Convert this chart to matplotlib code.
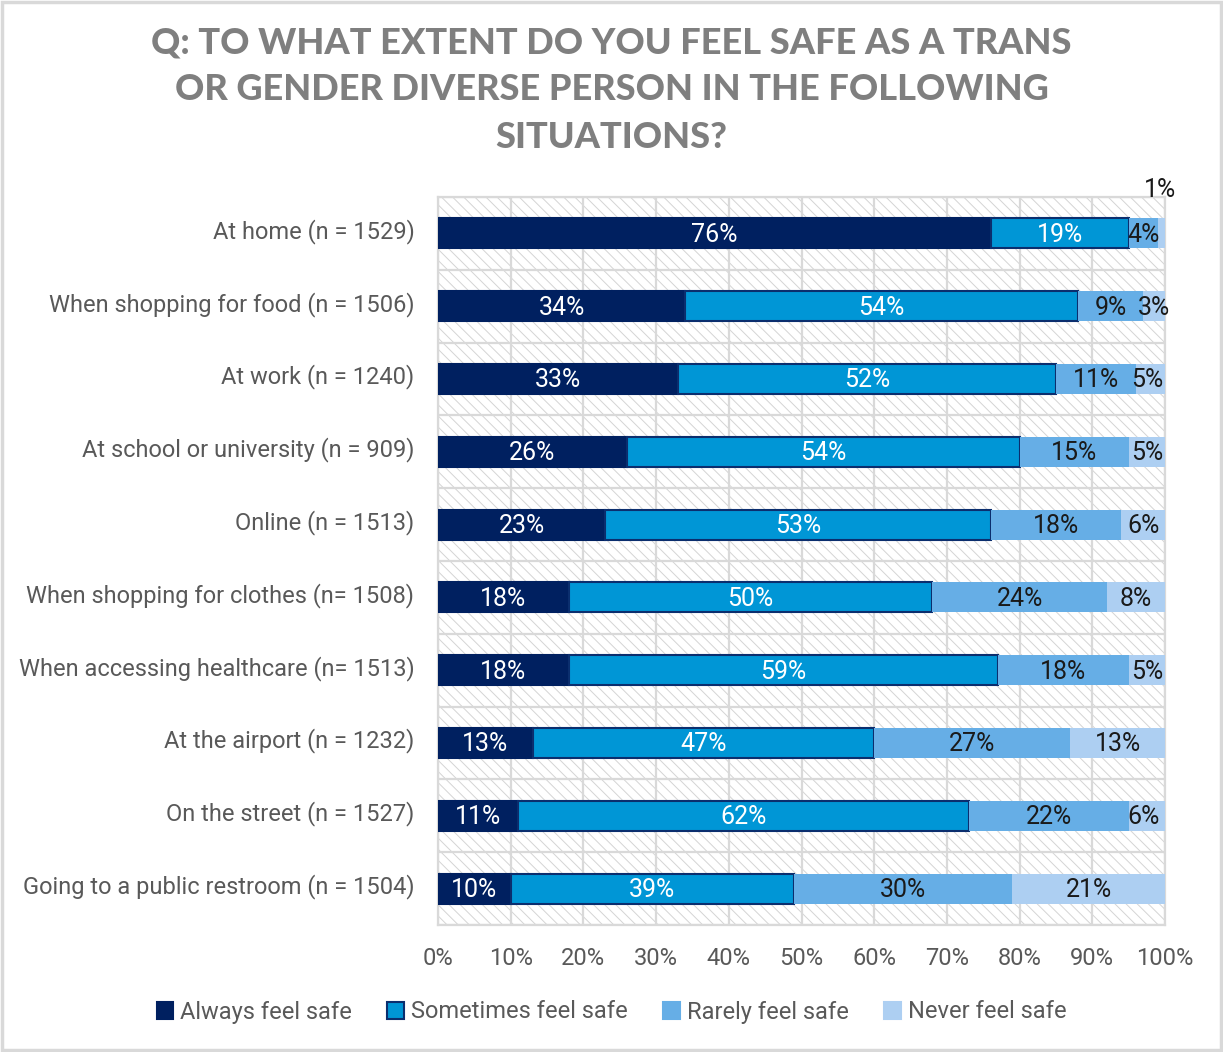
import matplotlib
matplotlib.use("Agg")
import matplotlib.pyplot as plt
from matplotlib.patches import Rectangle
import matplotlib.transforms as mtransforms
import numpy as np

categories = [
    "At home (n = 1529)",
    "When shopping for food (n = 1506)",
    "At work (n = 1240)",
    "At school or university (n = 909)",
    "Online (n = 1513)",
    "When shopping for clothes (n= 1508)",
    "When accessing healthcare (n= 1513)",
    "At the airport (n = 1232)",
    "On the street (n = 1527)",
    "Going to a public restroom (n = 1504)",
]
always = [76, 34, 33, 26, 23, 18, 18, 13, 11, 10]
sometimes = [19, 54, 52, 54, 53, 50, 59, 47, 62, 39]
rarely = [4, 9, 11, 15, 18, 24, 18, 27, 22, 30]
never = [1, 3, 5, 5, 6, 8, 5, 13, 6, 21]
series_names = ["Always feel safe", "Sometimes feel safe", "Rarely feel safe", "Never feel safe"]
xticks = [0, 10, 20, 30, 40, 50, 60, 70, 80, 90, 100]
title = "Q: TO WHAT EXTENT DO YOU FEEL SAFE AS A TRANS\nOR GENDER DIVERSE PERSON IN THE FOLLOWING\nSITUATIONS?"

colors = ["#002060", "#0096D6", "#66AEE6", "#ADCFF2"]
edges = ["#002060", "#0B2E6E", "none", "none"]
label_colors = ["white", "white", "#1A1A1A", "#1A1A1A"]

plt.rcParams["font.family"] = ["Roboto", "DejaVu Sans"]
plt.rcParams["hatch.linewidth"] = 0.7

fig = plt.figure(figsize=(12.23, 10.52), dpi=100)
ax = fig.add_axes([438/1223, 1-925/1052, (1165-438)/1223, (925-197)/1052])

# figure border
fig.patches.append(Rectangle((0.002, 0.002), 0.996, 0.996, transform=fig.transFigure,
                             fill=False, edgecolor="#D9D9D9", linewidth=2.5))

# hatched plot area
ax.add_patch(Rectangle((0, 0), 1, 1, transform=ax.transAxes, facecolor="white",
                       edgecolor="#D4D4D4", hatch="\\\\\\", linewidth=0, zorder=0))

y = np.arange(len(categories))
data = [always, sometimes, rarely, never]
left = np.zeros(len(categories))
bar_h = 0.41
for i, vals in enumerate(data):
    vals = np.array(vals, dtype=float)
    ax.barh(y, vals, left=left, height=bar_h, color=colors[i],
            edgecolor=edges[i], linewidth=1.5 if edges[i] != "none" else 0, zorder=3)
    for j, v in enumerate(vals):
        if categories[j].startswith("At home") and i == 3:
            ax.text(99.3, -0.6, f"{int(v)}%", ha="center", va="center",
                    fontsize=18, color="#1A1A1A", clip_on=False, zorder=5)
            continue
        cx = left[j] + v / 2
        if i == 3:
            cx = 100 - v / 2
        ax.text(cx, y[j] + 0.02, f"{int(v)}%", ha="center", va="center",
                fontsize=18, color=label_colors[i], zorder=5)
    left = left + vals

ax.set_xlim(0, 100)
ax.set_ylim(len(categories) - 0.5, -0.5)

# grid
for xv in xticks:
    ax.axvline(xv, color="#D9D9D9", linewidth=1.6, zorder=1)
for yb in np.arange(-0.5, len(categories) + 0.5, 1):
    ax.axhline(yb, color="#D9D9D9", linewidth=1.6, zorder=1)
for s in ax.spines.values():
    s.set_color("#D9D9D9")
    s.set_linewidth(1.6)

ax.set_xticks(xticks)
ax.set_xticklabels([f"{t}%" for t in xticks], fontsize=17, color="#595959")
ax.set_yticks(y)
ax.set_yticklabels(categories, fontsize=17, color="#595959", va="center")
ax.tick_params(axis="y", length=0, pad=17)
ax.tick_params(axis="x", length=0, pad=16)
offset = mtransforms.ScaledTranslation(0, 1.5/72, fig.dpi_scale_trans)
for lbl in ax.get_yticklabels():
    lbl.set_transform(lbl.get_transform() + offset)

fig.text(0.5, 1 - 90/1052, title, ha="center", va="center", fontsize=26,
         fontweight="black", color="#7F7F7F",
         linespacing=1.52, family=["Lato", "DejaVu Sans"])

handles = [Rectangle((0, 0), 1, 1, facecolor=colors[i],
                     edgecolor=edges[i] if edges[i] != "none" else colors[i],
                     linewidth=1.5) for i in range(4)]
fig.legend(handles, series_names, loc="center", bbox_to_anchor=(0.5, 1 - 1012/1052),
           ncol=4, frameon=False, fontsize=17, labelcolor="#595959",
           handlelength=0.7, handleheight=0.7, handletextpad=0.3, columnspacing=1.5)

fig.savefig("out.png", dpi=100)
